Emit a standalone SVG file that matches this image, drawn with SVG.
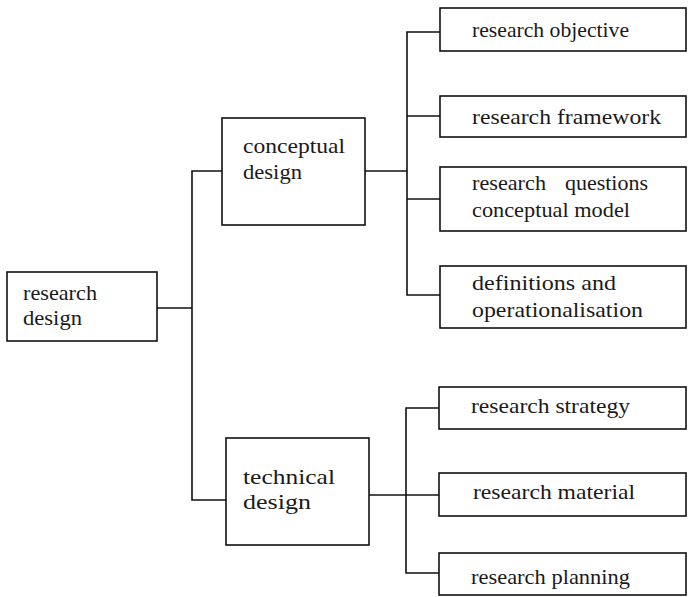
<svg xmlns="http://www.w3.org/2000/svg" width="689" height="597" viewBox="0 0 689 597">
  <style>
    .box { fill: #ffffff; stroke: #111111; stroke-width: 1.6; }
    .wire { fill: none; stroke: #111111; stroke-width: 1.6; }
    text { font-family: "Liberation Serif", "Times New Roman", serif; font-size: 22px; fill: #1a1a1a; }
  </style>
  <rect width="689" height="597" fill="#ffffff"/>

  <!-- connectors -->
  <g id="connectors" class="wire">
    <!-- root to level 1 -->
    <path d="M157,308 H192"/>
    <path d="M222,171 H192 V500 H226"/>
    <!-- conceptual design branch -->
    <path d="M365,171 H407"/>
    <path d="M440,32 H407 V295 H440"/>
    <path d="M407,116 H440"/>
    <path d="M407,199 H440"/>
    <!-- technical design branch -->
    <path d="M369,495 H440"/>
    <path d="M440,408 H406 V573 H440"/>
  </g>

  <g id="research-design">
    <rect class="box" x="7" y="272" width="150" height="69"/>
    <text x="23" y="300" textLength="74" lengthAdjust="spacingAndGlyphs">research</text>
    <text x="23" y="325" textLength="59" lengthAdjust="spacingAndGlyphs">design</text>
  </g>

  <g id="conceptual-design">
    <rect class="box" x="222" y="118" width="143" height="107"/>
    <text x="243" y="153" textLength="102" lengthAdjust="spacingAndGlyphs">conceptual</text>
    <text x="243" y="179" textLength="59" lengthAdjust="spacingAndGlyphs">design</text>
  </g>

  <g id="technical-design">
    <rect class="box" x="226" y="438" width="143" height="107"/>
    <text x="243" y="484" font-size="24" textLength="92" lengthAdjust="spacingAndGlyphs">technical</text>
    <text x="243" y="509" font-size="24" textLength="68" lengthAdjust="spacingAndGlyphs">design</text>
  </g>

  <g id="research-objective">
    <rect class="box" x="440" y="8" width="246" height="43"/>
    <text x="472" y="37" textLength="157" lengthAdjust="spacingAndGlyphs">research objective</text>
  </g>

  <g id="research-framework">
    <rect class="box" x="440" y="96" width="246" height="41"/>
    <text x="472" y="124" textLength="189" lengthAdjust="spacingAndGlyphs">research framework</text>
  </g>

  <g id="research-questions">
    <rect class="box" x="440" y="167" width="246" height="64"/>
    <!-- first line is justified across the box: two words spread apart -->
    <text x="472" y="190" textLength="74" lengthAdjust="spacingAndGlyphs">research</text>
    <text x="648" y="190" text-anchor="end">questions</text>
    <text x="472" y="217" textLength="158" lengthAdjust="spacingAndGlyphs">conceptual model</text>
  </g>

  <g id="definitions">
    <rect class="box" x="440" y="266" width="246" height="62"/>
    <text x="472" y="290" textLength="144" lengthAdjust="spacingAndGlyphs">definitions and</text>
    <text x="472" y="317" textLength="171" lengthAdjust="spacingAndGlyphs">operationalisation</text>
  </g>

  <g id="research-strategy">
    <rect class="box" x="439" y="387" width="247" height="42"/>
    <text x="471" y="413" textLength="159" lengthAdjust="spacingAndGlyphs">research strategy</text>
  </g>

  <g id="research-material">
    <rect class="box" x="439" y="473" width="247" height="43"/>
    <text x="473" y="499" textLength="162" lengthAdjust="spacingAndGlyphs">research material</text>
  </g>

  <g id="research-planning">
    <rect class="box" x="439" y="553" width="247" height="42"/>
    <text x="471" y="584" textLength="159" lengthAdjust="spacingAndGlyphs">research planning</text>
  </g>
</svg>
